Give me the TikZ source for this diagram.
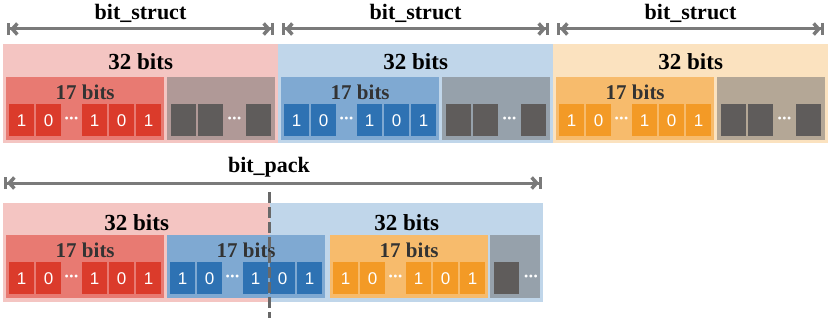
\documentclass[tikz,border=0pt]{standalone}
\usepackage{fontspec}
\setmainfont{Liberation Serif}
\newfontfamily\digitfont{Liberation Sans}
\definecolor{redbg}{HTML}{F4C5C2}
\definecolor{redfield}{HTML}{E87A72}
\definecolor{redcell}{HTML}{DB3B2B}
\definecolor{bluebg}{HTML}{C0D6EA}
\definecolor{bluefield}{HTML}{7FA9D2}
\definecolor{bluecell}{HTML}{2E72B3}
\definecolor{orangebg}{HTML}{FBE2BF}
\definecolor{orangefield}{HTML}{F7BB6C}
\definecolor{orangecell}{HTML}{F39A26}
\definecolor{padgray}{HTML}{6E6E6E}
\definecolor{cellgray}{HTML}{5F5C5B}
\definecolor{arrowgray}{HTML}{7A7A7A}
\colorlet{cutgray}{arrowgray!85!black}
\usetikzlibrary{arrows.meta}

\tikzset{
  wordbox/.style={anchor=north west, inner sep=0pt, minimum height=99pt},
  field/.style={anchor=north west, inner sep=0pt, minimum height=63pt},
  padbox/.style={field, fill=padgray, fill opacity=.5},
  cell/.style={anchor=north west, inner sep=0pt, minimum width=25pt, minimum height=32pt,
    text=white, font=\digitfont\fontsize{17}{17}\selectfont},
  dots/.style={text=white, inner sep=0pt, font=\fontsize{12}{12}\selectfont},
  titlelabel/.style={anchor=base, inner sep=0pt, font=\bfseries\fontsize{22}{22}\selectfont},
  wordlabel/.style={anchor=base, inner sep=0pt, font=\bfseries\fontsize{23}{23}\selectfont},
  countlabel/.style={anchor=base, inner sep=0pt, text=black!80, font=\bfseries\fontsize{21}{21}\selectfont},
  dimline/.style={draw=arrowgray, line width=3pt,
    {Bar[width=12pt,line width=3pt]Straight Barb[length=5pt,width=11pt,line width=3.5pt]}-{Straight Barb[length=5pt,width=11pt,line width=3.5pt]Bar[width=12pt,line width=3pt]}},
  cutline/.style={draw=cutgray, line width=3pt, dash pattern=on 11pt off 4pt}
}

\newcommand{\threedots}{\textbullet\kern.6pt\textbullet\kern.6pt\textbullet}

% one 17 bit field: name, x, y, colour
\newcommand{\drawfield}[4]{%
  \node[field, minimum width=158pt, fill=#4field] (#1) at (#2,#3) {};
  \node[countlabel] (#1-l) at ([yshift=-22.5pt]#1.north) {17 bits};
  \foreach \k/\dx/\v in {1/3/1, 2/30/0, 3/76/1, 4/103/0, 5/130/1}
    \node[cell, fill=#4cell] (#1-\k) at ([xshift=\dx pt, yshift=-27pt]#1.north west) {\v};
  \node[dots] (#1-d) at ([xshift=65.5pt, yshift=-43pt]#1.north west) {\threedots};
}

\begin{document}
\begin{tikzpicture}[x=1pt, y=-1pt]
  \useasboundingbox (0,0) rectangle (830,318);

  % three words, one bit_struct each
  \foreach \i/\x/\col in {1/3/red, 2/278/blue, 3/553/orange} {
    \node[titlelabel] (t\i) at (\x+137.5,20) {bit\_struct};
    \coordinate (a\i-l) at (\x+4,29);
    \coordinate (a\i-r) at (\x+271,29);
    \draw[dimline] (a\i-l) -- (a\i-r);
    \node[wordbox, minimum width=275pt, fill=\col bg] (w\i) at (\x,44) {};
    \node[wordlabel] (w\i-l) at ([yshift=-26pt]w\i.north) {32 bits};
    \drawfield{f\i}{\x+3}{77}{\col}
    \node[padbox, minimum width=108pt] (p\i) at (\x+164,77) {};
    \foreach \k/\dx in {1/4, 2/31, 3/79}
      \node[cell, fill=cellgray] (p\i-\k) at ([xshift=\dx pt, yshift=-27pt]p\i.north west) {};
    \node[dots] (p\i-d) at ([xshift=67.5pt, yshift=-43pt]p\i.north west) {\threedots};
  }

  % bit_pack
  \node[titlelabel] (tp) at (269,172) {bit\_pack};
  \coordinate (ap-l) at (4,183);
  \coordinate (ap-r) at (542,183);
  \draw[dimline] (ap-l) -- (ap-r);
  \node[wordbox, minimum width=267pt, fill=redbg] (wr) at (3,203) {};
  \node[wordbox, minimum width=273pt, fill=bluebg] (wb) at (270,203) {};
  \node[wordlabel] (wr-l) at ([yshift=-27pt]wr.north) {32 bits};
  \node[wordlabel] (wb-l) at ([yshift=-27pt]wb.north) {32 bits};
  \drawfield{g1}{6}{235}{red}
  \drawfield{g2}{167}{235}{blue}
  \drawfield{g3}{330}{235}{orange}
  \node[padbox, minimum width=50pt] (q) at (490,235) {};
  \node[cell, fill=cellgray] (q-1) at ([xshift=4pt, yshift=-27pt]q.north west) {};
  \node[dots] (q-d) at ([xshift=41pt, yshift=-43pt]q.north west) {\threedots};

  % word boundary
  \coordinate (cut-t) at (269,192);
  \coordinate (cut-b) at (269,318);
  \draw[cutline] (cut-t) -- (cut-b);
\end{tikzpicture}
\end{document}
